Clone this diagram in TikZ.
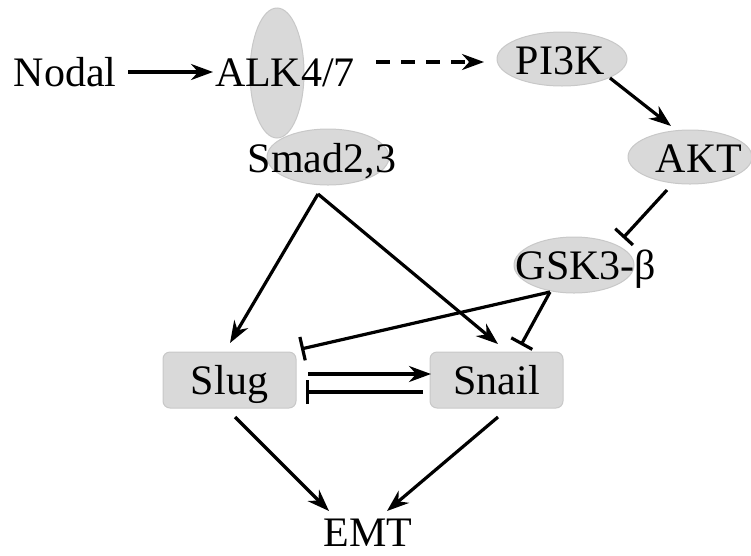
\documentclass[tikz,border=0pt]{standalone}
\usepackage{fontspec}
\setmainfont{Liberation Serif}
\usetikzlibrary{arrows.meta,shapes.geometric}
\definecolor{shapegray}{HTML}{D9D9D9}
\definecolor{edgegray}{HTML}{C8C8C8}
\begin{document}
\begin{tikzpicture}[x=1pt,y=-1pt,
  lbl/.style={font=\fontsize{42}{42}\selectfont, inner sep=0pt, anchor=base},
  oval/.style={ellipse, fill=shapegray, draw=edgegray, line width=1pt, inner sep=0pt},
  gbox/.style={rectangle, rounded corners=7pt, fill=shapegray, draw=edgegray, line width=1pt, inner sep=0pt},
  act/.style={line width=3.2pt, -{Stealth[length=22pt,width=16pt]}},
  dact/.style={act, dash pattern=on 14pt off 11pt},
  inh/.style={line width=3.2pt, -{Bar[width=24pt,line width=3.2pt]}}]
\useasboundingbox (0,0) rectangle (751,555);
% shapes
\node[oval, minimum width=54pt, minimum height=130pt] (alkov) at (277,73) {};
\node[oval, minimum width=122pt, minimum height=56pt] (smadov) at (328,157) {};
\node[oval, minimum width=130pt, minimum height=54pt] (pi3kov) at (562,59) {};
\node[oval, minimum width=124pt, minimum height=54pt] (aktov) at (690,157) {};
\node[oval, minimum width=120pt, minimum height=56pt] (gskov) at (574,265) {};
\node[gbox, minimum width=133pt, minimum height=56pt] (slugbx) at (229.5,380) {};
\node[gbox, minimum width=133pt, minimum height=56pt] (snailbx) at (496.5,380) {};
% labels
\node[lbl] (nodal) at (65,86) {Nodal};
\node[lbl] (alk) at (285,86) {ALK4/7};
\node[lbl] (smad) at (322,172) {Smad2,3};
\node[lbl] (pi3k) at (560,74) {PI3K};
\node[lbl] (akt) at (699,172) {AKT};
\node[lbl] (gsk) at (586,279) {GSK3-β};
\node[lbl] (slug) at (229.5,394) {Slug};
\node[lbl] (snail) at (496.5,394) {Snail};
\node[lbl] (emt) at (368,546) {EMT};
% connector ends
\coordinate (nodalE) at (128,72);
\coordinate (alkW) at (213,72);
\coordinate (alkE) at (376,62);
\coordinate (pi3kW) at (484,62);
\coordinate (pi3kSE) at (610,78);
\coordinate (aktNW) at (671,126);
\coordinate (aktSW) at (667,190);
\coordinate (gskNE) at (623,238);
\coordinate (smadS) at (318,194);
\coordinate (slugN) at (230,343);
\coordinate (snailN) at (498,344);
\coordinate (gskSW) at (550,292);
\coordinate (slugNE) at (301,349);
\coordinate (snailNE) at (521,345);
\coordinate (slugE1) at (308,374);
\coordinate (snailW1) at (431,374);
\coordinate (snailW2) at (423,392);
\coordinate (slugE2) at (306,392);
\coordinate (slugS) at (235,417);
\coordinate (snailS) at (498,417);
\coordinate (emtNW) at (329,511);
\coordinate (emtNE) at (387,511);
% connectors
\draw[act] (nodalE) -- (alkW);
\draw[dact] (alkE) -- (pi3kW);
\draw[act] (pi3kSE) -- (aktNW);
\draw[inh] (aktSW) -- (gskNE);
\draw[act] (smadS) -- (slugN);
\draw[act] (smadS) -- (snailN);
\draw[inh] (gskSW) -- (slugNE);
\draw[inh] (gskSW) -- (snailNE);
\draw[act] (slugE1) -- (snailW1);
\draw[inh] (snailW2) -- (slugE2);
\draw[act] (slugS) -- (emtNW);
\draw[act] (snailS) -- (emtNE);
\end{tikzpicture}
\end{document}
